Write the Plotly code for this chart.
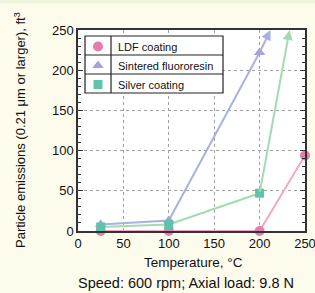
import plotly.graph_objects as go

# ---- data ----
temperature = [25, 100, 200, 250]
ldf_coating = [0, 0, 0, 94]
sintered_temp = [25, 100, 200]
sintered_fluororesin = [8, 13, 222]
silver_temp = [25, 100, 200]
silver_coating = [5, 8, 47]
# lines leaving the chart (continue beyond 250): start point -> point at top edge
sintered_arrow = (200, 222, 212, 250)
silver_arrow = (200, 47, 233, 250)

x_ticks = [0, 50, 100, 150, 200, 250]
y_ticks = [0, 50, 100, 150, 200, 250]

pink_m, pink_l = "#e57dac", "#f5a6c8"
lav_m, lav_l = "#a4a2d8", "#a8b1e1"
teal_m, teal_l = "#5fc2aa", "#a2dbb1"

font = "Liberation Sans, Arial, sans-serif"

fig = go.Figure()

# lines
fig.add_trace(go.Scatter(x=sintered_temp, y=sintered_fluororesin, mode="lines",
                         line=dict(color=lav_l, width=2), showlegend=False, hoverinfo="skip"))
fig.add_trace(go.Scatter(x=silver_temp, y=silver_coating, mode="lines",
                         line=dict(color=teal_l, width=2), showlegend=False, hoverinfo="skip"))
fig.add_trace(go.Scatter(x=temperature, y=ldf_coating, mode="lines",
                         line=dict(color=pink_l, width=2), showlegend=False, hoverinfo="skip"))

# markers (legend)
fig.add_trace(go.Scatter(x=temperature, y=ldf_coating, mode="markers", name="LDF coating",
                         marker=dict(symbol="circle", size=10, color=pink_m), cliponaxis=False))
fig.add_trace(go.Scatter(x=sintered_temp, y=sintered_fluororesin, mode="markers",
                         name="Sintered fluororesin",
                         marker=dict(symbol="triangle-up", size=10, color=lav_m), cliponaxis=False))
fig.add_trace(go.Scatter(x=silver_temp, y=silver_coating, mode="markers", name="Silver coating",
                         marker=dict(symbol="square", size=9, color=teal_m), cliponaxis=False))

# arrows
for (x0, y0, x1, y1), c in [(sintered_arrow, lav_l), (silver_arrow, teal_l)]:
    fig.add_annotation(x=x1, y=y1, ax=x0, ay=y0, xref="x", yref="y", axref="x", ayref="y",
                       showarrow=True, arrowhead=2, arrowsize=1, arrowwidth=2,
                       arrowcolor=c, standoff=0, startstandoff=0, text="")

L, R, T, B = 78, 10, 30, 62
W, H = 315, 293
pw, ph = W - L - R, H - T - B

def px_x(p):
    return (p - L) / pw

def px_y(p):
    return (H - B - p) / ph

shapes = []
# top light green strip
shapes.append(dict(type="rect", xref="paper", yref="paper", x0=px_x(0), x1=px_x(W),
                   y0=px_y(3), y1=px_y(0), fillcolor="#eef3dc", line=dict(width=0), layer="below"))

# legend table
lx0, lx1, lsep = 85, 223, 111
ly0, row = 36, 19
shapes.append(dict(type="rect", xref="paper", yref="paper", x0=px_x(lx0), x1=px_x(lx1),
                   y0=px_y(ly0 + 3 * row), y1=px_y(ly0), line=dict(color="#222", width=1.2),
                   fillcolor="white", layer="above"))
for i in (1, 2):
    shapes.append(dict(type="line", xref="paper", yref="paper", x0=px_x(lx0), x1=px_x(lx1),
                       y0=px_y(ly0 + i * row), y1=px_y(ly0 + i * row),
                       line=dict(color="#222", width=1.2), layer="above"))
shapes.append(dict(type="line", xref="paper", yref="paper", x0=px_x(lsep), x1=px_x(lsep),
                   y0=px_y(ly0), y1=px_y(ly0 + 3 * row), line=dict(color="#222", width=1.2),
                   layer="above"))

fig.update_layout(
    width=W, height=H,
    margin=dict(l=L, r=R, t=T, b=B, pad=0, autoexpand=False),
    paper_bgcolor="#fdfbec",
    plot_bgcolor="white",
    font=dict(family=font, size=13, color="#111"),
    shapes=shapes,
    showlegend=True,
    legend=dict(x=px_x(78), y=px_y(ly0 - 4), xanchor="left", yanchor="top",
                bgcolor="rgba(0,0,0,0)", borderwidth=0, font=dict(size=11, color="#111"),
                tracegroupgap=0),
    xaxis=dict(range=[0, 250], tickvals=x_ticks, ticktext=[str(v) for v in x_ticks],
               showgrid=True, gridcolor="#a0a0a0", griddash="3px,3px", gridwidth=1,
               showline=True, linecolor="#333", linewidth=1.5, mirror=True, automargin=False,
               ticks="", zeroline=False, tickfont=dict(size=13), ticklabeloverflow="allow"),
    yaxis=dict(range=[0, 250], tickvals=y_ticks, ticktext=[str(v) for v in y_ticks],
               showgrid=True, gridcolor="#a0a0a0", griddash="3px,3px", gridwidth=1,
               showline=True, linecolor="#333", linewidth=1.5, mirror="ticks", automargin=False,
               ticks="inside", ticklen=5, tickcolor="#333", zeroline=False,
               tickfont=dict(size=13), ticklabeloverflow="allow",
               minor=dict(dtick=10, ticks="inside", ticklen=3, tickcolor="#333", showgrid=False)),
)

fig.add_annotation(text="Temperature, °C", xref="paper", yref="paper", x=px_x(193), y=px_y(262),
                   showarrow=False, font=dict(size=13.5), xanchor="center", yanchor="middle")
fig.add_annotation(text="Speed: 600 rpm; Axial load: 9.8 N", xref="paper", yref="paper",
                   x=px_x(185.5), y=px_y(283), showarrow=False, font=dict(size=14.5),
                   xanchor="center", yanchor="middle")
fig.add_annotation(text="Particle emissions (0.21 μm or larger), ft<sup>3</sup>", xref="paper",
                   yref="paper", x=px_x(20), y=px_y(130), textangle=-90, showarrow=False,
                   font=dict(size=13), xanchor="center", yanchor="middle")

fig.write_html("out.html", post_script="document.body.style.margin='0';",
               config={"displayModeBar": False})
